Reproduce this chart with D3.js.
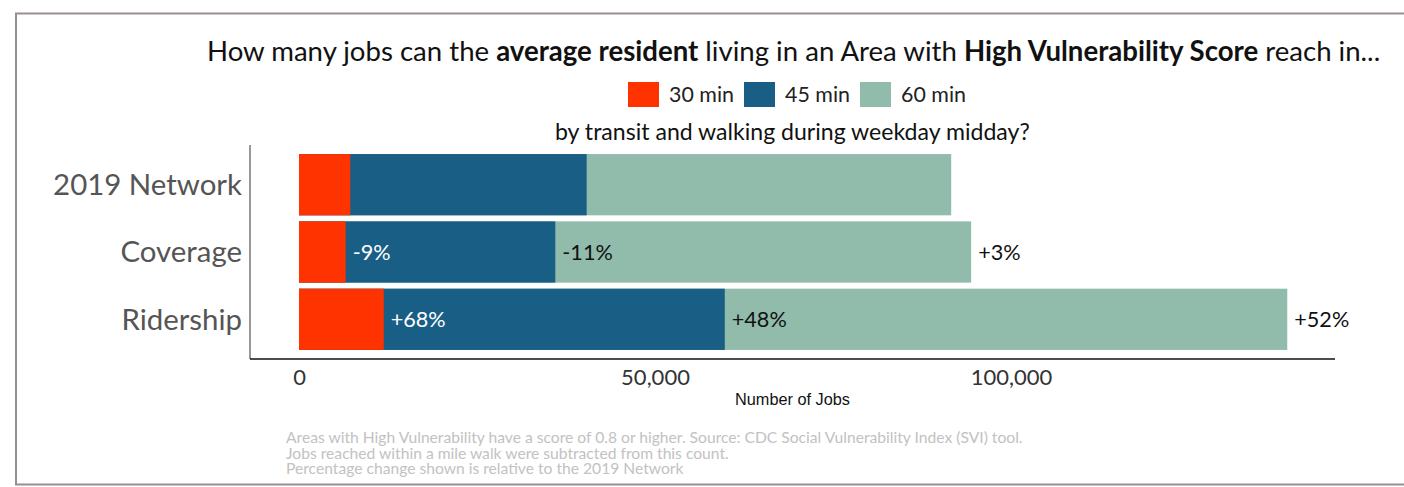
<!DOCTYPE html>
<html><head><meta charset="utf-8">
<script src="https://cdn.jsdelivr.net/npm/d3@7"></script>
<style>body{margin:0;background:#fff}svg{display:block}</style>
</head><body>
<svg id="c" width="1404" height="487"></svg>
<script>
const categories = ["2019 Network", "Coverage", "Ridership"];
const seriesNames = ["30 min", "45 min", "60 min"];
const jobs30 = [7200, 6550, 11900];
const jobs45 = [40400, 36000, 59800];
const jobs60 = [91600, 94400, 138800];
const labels30 = ["", "-9%", "+68%"];
const labels45 = ["", "-11%", "+48%"];
const labels60 = ["", "+3%", "+52%"];
const xTicks = [0, 50000, 100000];
const colors = ["#ff3300", "#185e85", "#91bbab"];

const FONT = "Lato, 'Open Sans', sans-serif";
const svg = d3.select("#c");

// frame
svg.append("rect").attr("x", 16).attr("y", 13.5).attr("width", 1420).attr("height", 471)
  .attr("fill", "none").attr("stroke", "#978f8f").attr("stroke-width", 2);

function fit(sel, w) {
  const n = sel.node();
  const fs = parseFloat(sel.attr("font-size"));
  const cur = n.getComputedTextLength();
  const nf = fs * w / cur;
  sel.attr("font-size", nf.toFixed(2));
  return nf;
}

// title
const title = svg.append("text").attr("x", 207).attr("y", 61).attr("font-family", FONT)
  .attr("font-size", 24).attr("fill", "#111");
[["How many jobs can the ", 400], ["average resident", 700], [" living in an Area with ", 400],
 ["High Vulnerability Score", 700], [" reach in...", 400]].forEach(([t, w]) =>
  title.append("tspan").attr("font-weight", w).text(t));
fit(title, 1173);

// legend
const legX = [628, 744, 860];
seriesNames.forEach((s, i) => {
  svg.append("rect").attr("x", legX[i]).attr("y", 82).attr("width", 31).attr("height", 25).attr("fill", colors[i]);
  const t = svg.append("text").attr("x", legX[i] + 41).attr("y", 102).attr("font-family", FONT)
    .attr("font-size", 20).attr("fill", "#222").text(s);
  fit(t, 65);
});

// subtitle
const sub = svg.append("text").attr("x", 555).attr("y", 140).attr("font-family", FONT)
  .attr("font-size", 20).attr("fill", "#111").text("by transit and walking during weekday midday?");
fit(sub, 475);

const x = d3.scaleLinear().domain([0, 100000]).range([299, 1011]);
const y = d3.scaleBand().domain(categories).range([148, 356]).padding(0.09);

const rows = categories.map((c, i) => ({c, vals: [jobs30[i], jobs45[i], jobs60[i]],
  labs: [labels30[i], labels45[i], labels60[i]]}));

// bars (overlapping cumulative, largest drawn first)
[2, 1, 0].forEach(k => {
  svg.append("g").selectAll("rect").data(rows).join("rect")
    .attr("x", x(0)).attr("y", d => y(d.c))
    .attr("width", d => x(d.vals[k]) - x(0)).attr("height", y.bandwidth())
    .attr("fill", colors[k]);
});

// value label font size fitted from the widest label
const probe = svg.append("text").attr("font-family", FONT).attr("font-size", 20).text(labels60[2]);
const valFs = fit(probe, 55);
probe.remove();

[0, 1, 2].forEach(k => {
  svg.append("g").selectAll("text").data(rows.filter(d => d.labs[k])).join("text")
    .attr("x", d => x(d.vals[k]) + 7).attr("y", d => y(d.c) + y.bandwidth() / 2 + valFs * 0.36)
    .attr("font-family", FONT).attr("font-size", valFs)
    .attr("fill", k === 0 ? "#fff" : "#111").text(d => d.labs[k]);
});

// y axis
const probe2 = svg.append("text").attr("font-family", FONT).attr("font-size", 28).text(categories[0]);
const catFs = fit(probe2, 189);
probe2.remove();
const yAxis = svg.append("g").attr("transform", "translate(250,0)")
  .call(d3.axisLeft(y).tickSize(0).tickPadding(8));
yAxis.select(".domain").attr("stroke", "#333").attr("d", "M0,145V359");
yAxis.selectAll("text").attr("font-family", FONT).attr("font-size", catFs).attr("fill", "#555")
  .attr("dy", "0.35em");

// x axis
const xAxis = svg.append("g").attr("transform", "translate(0,359)")
  .call(d3.axisBottom(x).tickValues(xTicks).tickSize(0).tickPadding(10).tickFormat(d3.format(",")));
xAxis.select(".domain").attr("stroke", "#111").attr("stroke-width", 1.5).attr("d", "M250,0H1335");
xAxis.selectAll("text").attr("font-family", FONT).attr("font-size", 22).attr("fill", "#333");

const xt = svg.append("text").attr("x", 735).attr("y", 405)
  .attr("font-family", "'Liberation Sans', Arial, sans-serif").attr("font-size", 15).attr("fill", "#111")
  .text("Number of Jobs");
fit(xt, 115);

// notes
const notes = ["Areas with High Vulnerability have a score of 0.8 or higher. Source: CDC Social Vulnerability Index (SVI) tool.",
  "Jobs reached within a mile walk were subtracted from this count.",
  "Percentage change shown is relative to the 2019 Network"];
const probe3 = svg.append("text").attr("font-family", FONT).attr("font-size", 13).text(notes[0]);
const noteFs = fit(probe3, 737);
probe3.remove();
notes.forEach((n, i) => {
  svg.append("text").attr("x", 286).attr("y", 443 + i * 15.5).attr("font-family", FONT)
    .attr("font-size", noteFs).attr("fill", "#c2c2c2").text(n);
});
</script>
</body></html>
